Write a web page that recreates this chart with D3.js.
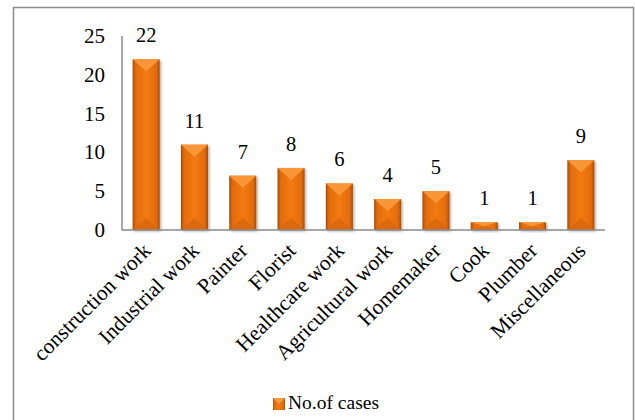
<!DOCTYPE html>
<html>
<head>
<meta charset="utf-8">
<script src="https://cdn.jsdelivr.net/npm/d3@7"></script>
<style>
  body { margin: 0; background: #fff; }
</style>
</head>
<body>
<svg width="635" height="420"></svg>
<script>
const categories = ["construction work", "Industrial work", "Painter", "Florist", "Healthcare work",
  "Agricultural work", "Homemaker", "Cook", "Plumber", "Miscellaneous"];
const cases = [22, 11, 7, 8, 6, 4, 5, 1, 1, 9];
const yTicks = [0, 5, 10, 15, 20, 25];
const seriesName = "No.of cases";

const data = categories.map((c, i) => ({ name: c, value: cases[i] }));

const svg = d3.select("svg");
const margin = { left: 122, right: 30, top: 36, bottom: 190 };
const width = 635, height = 420;
const serif = "'Liberation Serif', 'Times New Roman', Times, serif";

// outer chart border
svg.append("rect")
  .attr("x", 13.5).attr("y", 7.5)
  .attr("width", 620).attr("height", 430)
  .attr("fill", "none").attr("stroke", "#8c8c8c").attr("stroke-width", 1.5);

const x = d3.scaleBand()
  .domain(categories)
  .range([margin.left, width - margin.right])
  .paddingInner(0.44).paddingOuter(0.22);

const y = d3.scaleLinear()
  .domain([0, 25])
  .range([height - margin.bottom, margin.top]);

const defs = svg.append("defs");
const grad = defs.append("linearGradient").attr("id", "barGrad")
  .attr("x1", 0).attr("x2", 1).attr("y1", 0).attr("y2", 0);
grad.append("stop").attr("offset", 0).attr("stop-color", "#a94a04");
grad.append("stop").attr("offset", 0.12).attr("stop-color", "#e26c0c");
grad.append("stop").attr("offset", 0.5).attr("stop-color", "#f27b12");
grad.append("stop").attr("offset", 0.88).attr("stop-color", "#e26c0c");
grad.append("stop").attr("offset", 1).attr("stop-color", "#a94a04");

const shadow = defs.append("filter").attr("id", "shadow")
  .attr("x", "-20%").attr("y", "-20%").attr("width", "150%").attr("height", "150%");
shadow.append("feDropShadow").attr("dx", 1.5).attr("dy", 1.5).attr("stdDeviation", 1.2)
  .attr("flood-color", "#000").attr("flood-opacity", 0.3);

// y axis labels
svg.append("g").selectAll("text")
  .data(yTicks)
  .join("text")
  .attr("x", 105)
  .attr("y", d => y(d) + 7)
  .attr("text-anchor", "end")
  .attr("font-family", serif)
  .attr("font-size", 21)
  .text(d => d);

// axis lines
svg.append("line")
  .attr("x1", margin.left).attr("x2", margin.left)
  .attr("y1", y(25)).attr("y2", y(0))
  .attr("stroke", "#8a8a8a").attr("stroke-width", 1.5);

// bars
const bars = svg.append("g").selectAll("g")
  .data(data)
  .join("g")
  .attr("filter", "url(#shadow)");

bars.append("rect")
  .attr("x", d => x(d.name))
  .attr("y", d => y(d.value))
  .attr("width", x.bandwidth())
  .attr("height", d => y(0) - y(d.value))
  .attr("fill", "url(#barGrad)");

// top bevel (lighter) and bottom bevel (darker)
bars.append("path")
  .attr("d", d => {
    const x0 = x(d.name), w = x.bandwidth(), t = y(d.value);
    const b = Math.min(w / 2, (y(0) - t) / 2, 12);
    return `M${x0},${t}L${x0 + w},${t}L${x0 + w / 2},${t + b}Z`;
  })
  .attr("fill", "#f99a3e").attr("opacity", 0.9);

bars.append("path")
  .attr("d", d => {
    const x0 = x(d.name), w = x.bandwidth(), t = y(d.value), b0 = y(0);
    const b = Math.min(w / 2, (b0 - t) / 2, 12);
    return `M${x0},${b0}L${x0 + w},${b0}L${x0 + w / 2},${b0 - b}Z`;
  })
  .attr("fill", "#d8650b").attr("opacity", 0.8);

svg.append("line")
  .attr("x1", margin.left).attr("x2", width - margin.right)
  .attr("y1", y(0)).attr("y2", y(0))
  .attr("stroke", "#8a8a8a").attr("stroke-width", 1.5);

// value labels
svg.append("g").selectAll("text")
  .data(data)
  .join("text")
  .attr("x", d => x(d.name) + x.bandwidth() / 2)
  .attr("y", d => y(d.value) - 17)
  .attr("text-anchor", "middle")
  .attr("font-family", serif)
  .attr("font-size", 20.5)
  .text(d => d.value);

// category labels, rotated
svg.append("g").selectAll("text")
  .data(categories)
  .join("text")
  .attr("transform", d => `translate(${x(d) + x.bandwidth() / 2 + 6},${y(0) + 22}) rotate(-45)`)
  .attr("text-anchor", "end")
  .attr("font-family", serif)
  .attr("font-size", 21.5)
  .text(d => d);

// legend
const legend = svg.append("g");
legend.append("rect")
  .attr("x", 273).attr("y", 398)
  .attr("width", 12).attr("height", 12)
  .attr("fill", "url(#barGrad)");
legend.append("path")
  .attr("d", "M273,398L285,398L279,404Z")
  .attr("fill", "#f99a3e");
legend.append("text")
  .attr("x", 288).attr("y", 409)
  .attr("font-family", serif)
  .attr("font-size", 19.5)
  .text(seriesName);
</script>
</body>
</html>
